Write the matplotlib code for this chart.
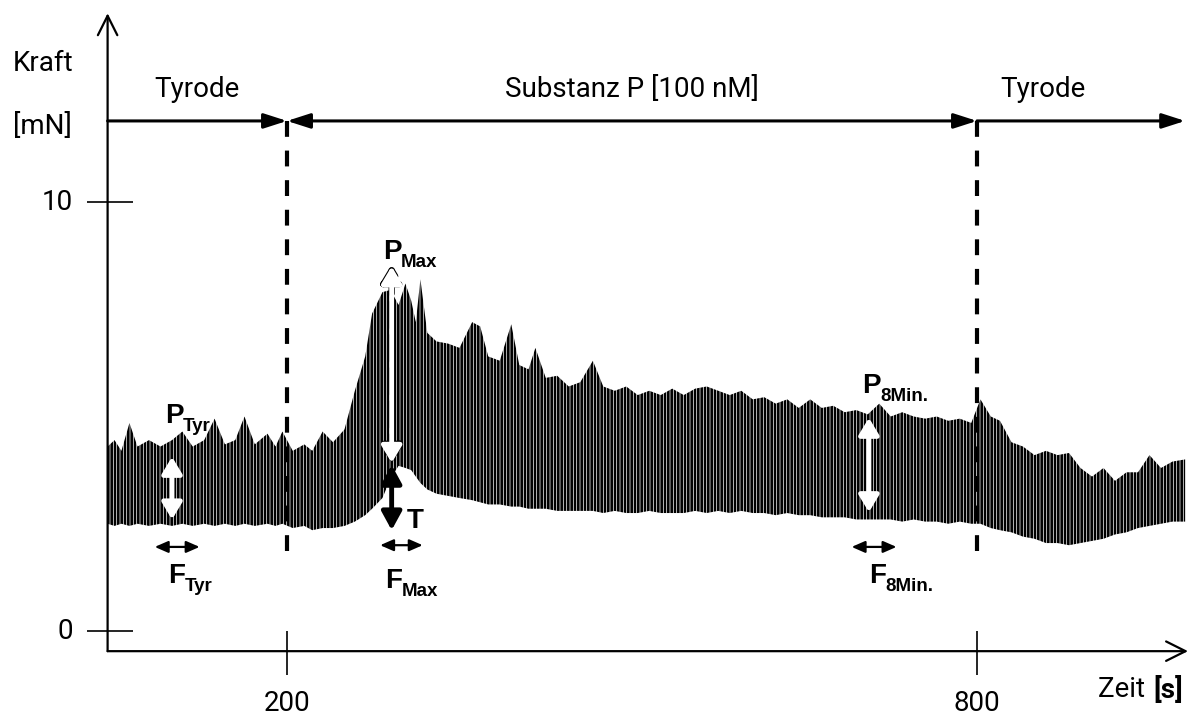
import numpy as np
import matplotlib
matplotlib.use("Agg")
import matplotlib.pyplot as plt
from matplotlib.patches import FancyArrowPatch

trace_t = [44, 50, 56, 63, 70, 80, 90, 100, 109, 118, 128, 137, 146, 155, 163, 172,
           183, 190, 196, 205, 215, 222, 231, 240, 250, 259, 268, 274, 283, 290, 297,
           303, 308, 312, 316, 322, 330, 340, 350, 361, 368, 375, 385, 395, 402, 410,
           416, 425, 435, 445, 455, 466, 475, 485, 495, 505, 515, 525, 535, 545, 555,
           565, 575, 585, 595, 605, 615, 625, 635, 645, 655, 665, 675, 685, 695, 705,
           715, 725, 735, 745, 755, 765, 775, 785, 795, 803, 812, 820, 830, 840, 850,
           860, 870, 880, 890, 900, 910, 920, 930, 940, 950, 960, 970, 981]
trace_hi = [4.3, 4.45, 4.2, 4.85, 4.3, 4.45, 4.3, 4.45, 4.65, 4.3, 4.45, 4.95, 4.35, 4.45,
            5.0, 4.35, 4.6, 4.3, 4.65, 4.2, 4.35, 4.2, 4.65, 4.4, 4.7, 5.6, 6.4, 7.4, 7.9,
            7.95, 7.6, 8.1, 7.7, 7.2, 8.2, 6.95, 6.75, 6.7, 6.6, 7.2, 7.1, 6.4, 6.3, 7.15,
            6.2, 6.1, 6.6, 5.9, 5.95, 5.7, 5.8, 6.3, 5.7, 5.6, 5.7, 5.5, 5.6, 5.5, 5.65,
            5.5, 5.65, 5.7, 5.6, 5.5, 5.6, 5.4, 5.45, 5.3, 5.4, 5.2, 5.4, 5.2, 5.25, 5.1,
            5.15, 5.05, 5.3, 5.0, 5.1, 5.0, 4.95, 5.0, 4.9, 4.95, 4.85, 5.4, 5.0, 4.9, 4.4,
            4.3, 4.1, 4.2, 4.1, 4.15, 3.8, 3.6, 3.8, 3.5, 3.7, 3.7, 4.1, 3.8, 3.95, 4.0]
trace_lo = [2.5, 2.45, 2.5, 2.45, 2.5, 2.45, 2.5, 2.45, 2.5, 2.45, 2.5, 2.45, 2.5, 2.45,
            2.5, 2.45, 2.5, 2.45, 2.5, 2.4, 2.45, 2.35, 2.4, 2.4, 2.45, 2.55, 2.7, 2.85,
            3.1, 3.55, 3.85, 3.8, 3.75, 3.6, 3.45, 3.3, 3.2, 3.15, 3.1, 3.05, 3.0, 2.95,
            2.95, 2.9, 2.9, 2.85, 2.85, 2.85, 2.8, 2.8, 2.8, 2.8, 2.75, 2.8, 2.75, 2.75,
            2.8, 2.75, 2.75, 2.75, 2.8, 2.75, 2.8, 2.75, 2.8, 2.75, 2.75, 2.7, 2.75, 2.7,
            2.7, 2.65, 2.65, 2.65, 2.6, 2.6, 2.6, 2.6, 2.55, 2.6, 2.55, 2.55, 2.5, 2.55,
            2.5, 2.5, 2.4, 2.35, 2.3, 2.2, 2.15, 2.05, 2.05, 2.0, 2.05, 2.1, 2.15, 2.25,
            2.3, 2.4, 2.45, 2.5, 2.55, 2.55]

phase_bounds = [44, 200, 800, 981]
phase_names = ["Tyrode", "Substanz P [100 nM]", "Tyrode"]
x_ticks = [200, 800]
y_ticks = [0, 10]

plt.rcParams["hatch.linewidth"] = 1.9

fig = plt.figure(figsize=(11.89, 7.15), dpi=100)
ax = fig.add_axes([0, 0, 1, 1])
ax.set_xlim(-49.57, 984.35)
ax.set_ylim(-1.958, 14.709)
ax.axis("off")

REG = dict(family="Roboto", fontsize=20, color="black")
BOLD = dict(family="Liberation Sans", fontweight="bold", color="black")


def arrow(p0, p1, style, color="black", lw=2.0, ls="-", z=5):
    a = FancyArrowPatch(p0, p1, arrowstyle=style, mutation_scale=1, color=color,
                        lw=lw, linestyle=ls, shrinkA=0, shrinkB=0, zorder=z)
    ax.add_patch(a)


def sublabel(x, y, main, sub, dx):
    ax.text(x, y, main, fontsize=20, ha="left", va="baseline", zorder=6, **BOLD)
    ax.annotate(sub, (x, y), xytext=(dx, -6), textcoords="offset points",
                fontsize=13.5, ha="left", va="baseline", zorder=6, **BOLD)


# trace
ax.fill_between(trace_t, trace_lo, trace_hi, facecolor="none", edgecolor="black",
                hatch="|||||", linewidth=0, zorder=2)

# axes with open arrow heads
arrow((44, -0.47), (983.5, -0.47), "->,head_length=14,head_width=7", lw=1.6)
arrow((44, -0.47), (44, 14.4), "->,head_length=14,head_width=7", lw=1.6)
for v in y_ticks:
    ax.plot([26, 66], [v, v], color="black", lw=1.2, solid_capstyle="butt")
    ax.text(14, v, str(v), ha="right", va="center", **REG)
for v in x_ticks:
    ax.plot([v, v], [0, -1.03], color="black", lw=1.2, solid_capstyle="butt")
    ax.text(v, -1.68, str(v), ha="center", va="center", **REG)

ax.text(-38.3, 13.24, "Kraft", ha="left", va="center", **REG)
ax.text(-38.3, 11.77, "[mN]", ha="left", va="center", **REG)
ax.text(979, -1.375, "[s]", ha="right", va="center", family="Roboto", fontsize=20,
        fontweight="bold")
ax.annotate("Zeit ", (979, -1.375), xytext=(-22, 0), textcoords="offset points",
            ha="right", va="center", **REG)

# phase arrows on top
top = 11.89
head = "head_length=14,head_width=4.5"
arrow((phase_bounds[0], top), (phase_bounds[1], top), "-|>," + head, lw=2.2)
arrow((phase_bounds[1], top), (phase_bounds[2], top), "<|-|>," + head, lw=2.2)
arrow((phase_bounds[2], top), (phase_bounds[3], top), "-|>," + head, lw=2.2)
for i, name in enumerate(phase_names):
    cx = (phase_bounds[i] + phase_bounds[i + 1]) / 2
    if i == 2:
        cx = 857
    ax.text(cx, 12.63, name, ha="center", va="center", **REG)
for v in phase_bounds[1:3]:
    ax.plot([v, v], [top, 1.82], color="black", lw=3, ls=(0, (3.8, 3.3)), zorder=3)

# measurement markers
white_head = "<|-|>,head_length=10,head_width=6"
arrow((100, 2.6), (100, 4.06), white_head, color="white", lw=3.5)
arrow((291, 8.55), (291, 3.9), white_head, color="black", lw=4.5, ls="--", z=4)
arrow((291, 8.5), (291, 3.92), white_head, color="white", lw=3.5)
arrow((706, 2.77), (706, 4.97), white_head, color="white", lw=3.5)
arrow((291, 3.87), (291, 2.35), "<|-|>,head_length=11,head_width=6", lw=3.5)

f_head = "<|-|>,head_length=8,head_width=3.5"
arrow((85, 1.96), (124, 1.96), f_head, lw=1.6)
arrow((281, 2.0), (318, 2.0), f_head, lw=1.6)
arrow((691, 1.96), (730, 1.96), f_head, lw=1.6)

sublabel(93.9, 4.85, "P", "Tyr", 13)
sublabel(96.5, 1.12, "F", "Tyr", 12)
sublabel(283.5, 8.67, "P", "Max", 13)
sublabel(285.2, 1.0, "F", "Max", 12)
sublabel(700, 5.55, "P", "8Min.", 13)
sublabel(706, 1.12, "F", "8Min.", 12)
ax.text(304, 2.4, "T", fontsize=20, ha="left", va="baseline", zorder=6, **BOLD)

fig.savefig("out.png", dpi=100)
